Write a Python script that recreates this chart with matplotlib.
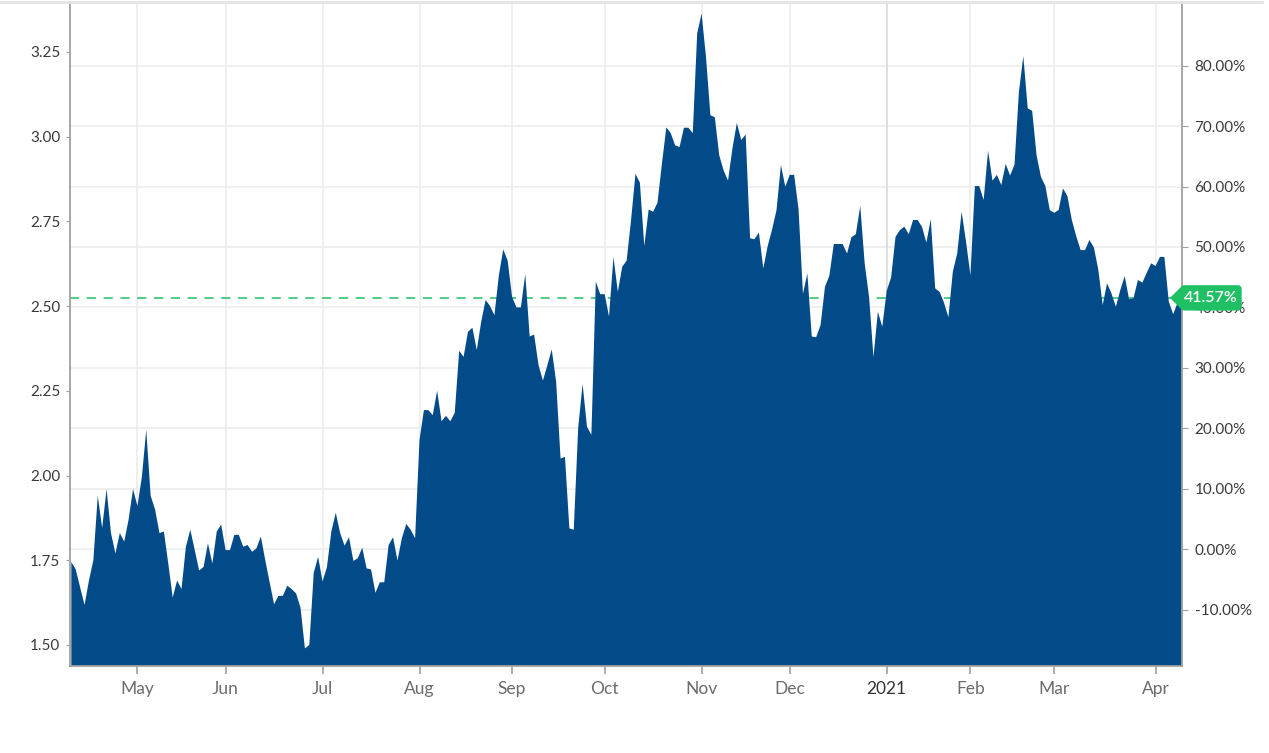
import numpy as np
import pandas as pd
import matplotlib
matplotlib.use('Agg')
import matplotlib.pyplot as plt
from matplotlib.patches import Polygon, FancyBboxPatch
from matplotlib.lines import Line2D
from matplotlib.transforms import IdentityTransform

plt.rcParams['font.family'] = ['Lato', 'DejaVu Sans']

# trading days Apr 9 2020 - Apr 12 2021, US market holidays dropped
holidays = ['2020-04-10', '2020-05-25', '2020-07-03', '2020-09-07', '2020-11-26',
            '2020-12-25', '2021-01-01', '2021-01-18', '2021-02-15', '2021-04-02']
dates = pd.bdate_range('2020-04-09', '2021-04-12')
dates = dates[~dates.isin(pd.to_datetime(holidays))]

# closing prices
prices = [
    1.745, 1.723, 1.67, 1.618, 1.69, 1.75, 1.94, 1.845, 1.96, 1.83,
    1.77, 1.83, 1.805, 1.87, 1.96, 1.91, 1.995, 2.135, 1.94, 1.90,
    1.83, 1.835, 1.74, 1.64, 1.69, 1.665, 1.79, 1.84, 1.78, 1.72,
    1.73, 1.80, 1.74, 1.835, 1.855, 1.78, 1.78, 1.825, 1.825, 1.79,
    1.795, 1.775, 1.785, 1.82, 1.75, 1.685, 1.62, 1.645, 1.645, 1.675,
    1.665, 1.652, 1.61, 1.49, 1.50, 1.713, 1.76, 1.687, 1.73, 1.835,
    1.89, 1.83, 1.793, 1.818, 1.748, 1.756, 1.787, 1.726, 1.723, 1.654,
    1.685, 1.685, 1.795, 1.818, 1.749, 1.815, 1.857, 1.84, 1.815, 2.105,
    2.193, 2.193, 2.178, 2.25, 2.16, 2.176, 2.16, 2.185, 2.368, 2.35,
    2.424, 2.436, 2.37, 2.454, 2.518, 2.50, 2.473, 2.59, 2.667, 2.634,
    2.527, 2.496, 2.496, 2.594, 2.41, 2.416, 2.326, 2.28, 2.325, 2.372,
    2.277, 2.05, 2.055, 1.844, 1.84, 2.14, 2.27, 2.144, 2.12, 2.572,
    2.535, 2.535, 2.469, 2.644, 2.542, 2.616, 2.634, 2.754, 2.89, 2.864,
    2.677, 2.785, 2.778, 2.805, 2.92, 3.027, 3.01, 2.974, 2.969, 3.026,
    3.026, 3.01, 3.304, 3.363, 3.235, 3.063, 3.057, 2.945, 2.90, 2.87,
    2.965, 3.04, 2.99, 3.006, 2.70, 2.697, 2.717, 2.611, 2.677, 2.726,
    2.783, 2.916, 2.852, 2.887, 2.887, 2.785, 2.536, 2.596, 2.41, 2.408,
    2.444, 2.557, 2.59, 2.683, 2.683, 2.683, 2.655, 2.703, 2.712, 2.795,
    2.626, 2.527, 2.349, 2.483, 2.439, 2.545, 2.584, 2.704, 2.724, 2.734,
    2.712, 2.754, 2.754, 2.734, 2.687, 2.756, 2.552, 2.542, 2.51, 2.467,
    2.601, 2.655, 2.778, 2.69, 2.59, 2.854, 2.854, 2.813, 2.958, 2.87,
    2.887, 2.857, 2.919, 2.885, 2.917, 3.132, 3.237, 3.083, 3.076, 2.945,
    2.881, 2.854, 2.783, 2.775, 2.783, 2.847, 2.824, 2.754, 2.706, 2.665,
    2.665, 2.695, 2.673, 2.608, 2.503, 2.567, 2.537, 2.498, 2.547, 2.588,
    2.52, 2.523, 2.577, 2.569, 2.598, 2.626, 2.618, 2.645, 2.645, 2.513,
    2.476, 2.51, 2.524,
]
base_price = 1.7829          # price that maps to 0.00% on the right axis
price_ticks = [1.50, 1.75, 2.00, 2.25, 2.50, 2.75, 3.00, 3.25]
pct_ticks = [-10, 0, 10, 20, 30, 40, 50, 60, 70, 80]

AREA = '#034a89'
GREEN = '#1fc063'
GRID = '#ececec'
AXIS = '#a0a0a0'

x = np.arange(len(dates))
ylo, yhi = 1.438, 3.397

fig = plt.figure(figsize=(12.69, 7.53), dpi=100)
ax = fig.add_axes([70 / 1269, 87 / 753, 1112 / 1269, 664 / 753])

# horizontal grid follows the percent axis, under the area
for p in pct_ticks:
    ax.axhline(base_price * (1 + p / 100), color=GRID, lw=1.2, zorder=0)

# month ticks on first trading day of each month
month_idx = [i for i in range(1, len(dates)) if dates[i].month != dates[i - 1].month]
month_lbl = [str(dates[i].year) if dates[i].month == 1 else dates[i].strftime('%b') for i in month_idx]
for i, lbl in zip(month_idx, month_lbl):
    ax.axvline(i, color='#d9d9d9' if lbl.isdigit() else GRID, lw=1.2, zorder=0)

last = prices[-1]
ax.axhline(last, color=GREEN, lw=1.1, ls=(0, (6, 5)), zorder=1)
ax.fill_between(x, prices, ylo - 1, color=AREA, lw=0, zorder=2)

ax.set_xlim(-0.3, len(x) - 1)
ax.set_ylim(ylo, yhi)
ax.set_yticks(price_ticks)
ax.set_yticklabels(['%.2f' % v for v in price_ticks])
ax.set_xticks(month_idx)
ax.set_xticklabels(month_lbl)
for t in ax.get_xticklabels():
    t.set_color('#333333' if t.get_text().isdigit() else '#6b6b6b')

ax.tick_params(axis='y', length=3, color=AXIS, labelsize=11, labelcolor='#3a3a3a', pad=4)
ax.tick_params(axis='x', length=6, width=1.2, color=AXIS, labelsize=12.5, pad=5)
for s in ['left', 'bottom', 'right']:
    ax.spines[s].set_color(AXIS)
    ax.spines[s].set_linewidth(1.3)
ax.spines['top'].set_visible(False)

# right axis in percent change vs base price
ax2 = ax.twinx()
ax2.set_ylim(ylo, yhi)
ax2.set_yticks([base_price * (1 + p / 100) for p in pct_ticks])
ax2.set_yticklabels(['%.2f%%' % p for p in pct_ticks])
ax2.tick_params(axis='y', length=4, color=AXIS, labelsize=11, labelcolor='#3a3a3a', pad=5)
for s in ax2.spines.values():
    s.set_visible(False)

# thin rule along the top of the widget
fig.add_artist(Line2D([0, 1262 / 1269], [1 - 1.5 / 753] * 2, transform=fig.transFigure,
                      color='#e4e4e4', lw=2))

# green badge with the latest change
xa = ax.transAxes.transform((1, 0))[0]
ya = ax.transData.transform((0, last))[1]
h = 12
arrow = Polygon([(xa - 11, ya), (xa + 1, ya + h), (xa + 1, ya - h)], closed=True,
                transform=IdentityTransform(), color=GREEN, zorder=5)
body = FancyBboxPatch((xa, ya - h), 59, 2 * h, boxstyle='round,pad=0,rounding_size=3',
                      transform=IdentityTransform(), color=GREEN, zorder=5)
fig.add_artist(arrow)
fig.add_artist(body)
change = (last / base_price - 1) * 100
fig.add_artist(plt.Text(xa + 29, ya, '%.2f%%' % change, transform=IdentityTransform(),
                        ha='center', va='center', color='white', fontsize=11.5,
                        fontweight='semibold', zorder=6))

fig.savefig('out.png', dpi=100)
